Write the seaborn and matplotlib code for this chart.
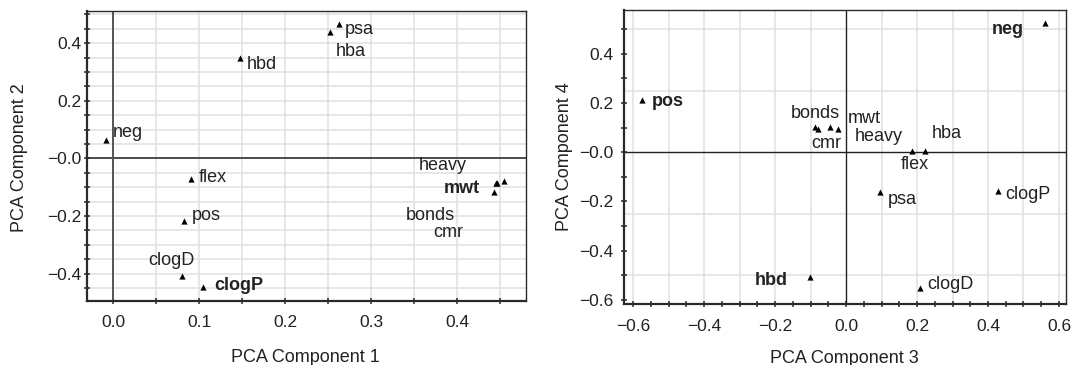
import numpy as np
import pandas as pd
import matplotlib
matplotlib.use("Agg")
import matplotlib.pyplot as plt
import seaborn as sns
from matplotlib.ticker import MultipleLocator, FixedLocator, FixedFormatter

# ---------------- data ----------------
variables = ["psa", "hba", "hbd", "neg", "flex", "pos", "clogD", "clogP",
             "heavy", "mwt", "bonds", "cmr"]
pc1 = [0.263, 0.252, 0.148, -0.008, 0.091, 0.083, 0.080, 0.105,
       0.455, 0.446, 0.445, 0.443]
pc2 = [0.467, 0.439, 0.348, 0.065, -0.071, -0.217, -0.408, -0.446,
       -0.078, -0.086, -0.086, -0.118]
pc3 = [0.096, 0.223, -0.103, 0.561, 0.187, -0.576, 0.208, 0.428,
       -0.022, -0.044, -0.087, -0.080]
pc4 = [-0.160, 0.005, -0.508, 0.525, 0.005, 0.213, -0.553, -0.156,
       0.095, 0.104, 0.104, 0.095]
bold_left = ["mwt", "clogP"]
bold_right = ["neg", "pos", "hbd"]

x1_ticks = [0.0, 0.1, 0.2, 0.3, 0.4]
x1_labels = ["0.0", "0.1", "0.2", "0.3", "0.4"]
y1_ticks = [-0.4, -0.2, 0.0, 0.2, 0.4]
y1_labels = ["\u22120.4", "\u22120.2", "\u22120.0", "0.2", "0.4"]
x2_ticks = [-0.6, -0.4, -0.2, 0.0, 0.2, 0.4, 0.6]
x2_labels = ["\u22120.6", "\u22120.4", "\u22120.2", "0.0", "0.2", "0.4", "0.6"]
y2_ticks = [-0.6, -0.4, -0.2, 0.0, 0.2, 0.4]
y2_labels = ["\u22120.6", "\u22120.4", "\u22120.2", "\u22120.0", "0.2", "0.4"]

df = pd.DataFrame({"var": variables, "PC1": pc1, "PC2": pc2, "PC3": pc3, "PC4": pc4})

# label placement (offset pixels, horizontal alignment)
off_left = {
    "psa": (6, -6, "left"), "hba": (21, -20, "center"), "hbd": (6.5, -6.5, "left"),
    "neg": (6.5, 7.5, "left"), "flex": (7.5, 1.5, "left"), "pos": (7, 5, "left"),
    "clogD": (-11, 15, "center"), "clogP": (11, 1, "left"),
    "heavy": (-62, 15, "center"), "mwt": (-17, -5.5, "right"),
    "bonds": (-65, -32, "center"), "cmr": (-46, -40.5, "center"),
}
off_right = {
    "psa": (7.5, -7.5, "left"), "hba": (22, 17, "center"), "hbd": (-38.5, -3.5, "center"),
    "neg": (-37, -6.5, "center"), "flex": (2.5, -14, "center"), "pos": (10, -1.5, "left"),
    "clogD": (7, 4, "left"), "clogP": (7, -3.5, "left"), "heavy": (40, -7.5, "center"),
    "mwt": (17, 8.5, "left"), "bonds": (0.5, 13.5, "center"), "cmr": (8.5, -15, "center"),
}

# ---------------- style ----------------
sns.set_style("white")
plt.rcParams["font.family"] = ["Liberation Sans", "DejaVu Sans"]
TXT = "#222222"
GRID = "#e0e0e0"

fig = plt.figure(figsize=(10.73, 3.65), dpi=100)
axL = fig.add_axes([0.0814, 0.176, 0.4086, 0.794])
axR = fig.add_axes([0.5815, 0.167, 0.4117, 0.8056])


def style_axes(ax):
    for side in ["left", "bottom"]:
        ax.spines[side].set_linewidth(1.6)
        ax.spines[side].set_color("#2a2a2a")
    for side in ["top", "right"]:
        ax.spines[side].set_linewidth(1.0)
        ax.spines[side].set_color("#2a2a2a")
        ax.spines[side].set_visible(True)


# ---------------- left panel ----------------
ax = axL
ax.set_xlim(-0.030, 0.480)
ax.set_ylim(-0.494, 0.512)
ax.xaxis.set_major_locator(FixedLocator(x1_ticks))
ax.xaxis.set_major_formatter(FixedFormatter(x1_labels))
ax.yaxis.set_major_locator(FixedLocator(y1_ticks))
ax.yaxis.set_major_formatter(FixedFormatter(y1_labels))
ax.xaxis.set_minor_locator(MultipleLocator(0.05))
ax.yaxis.set_minor_locator(MultipleLocator(0.05))
ax.grid(True, which="both", color=GRID, linewidth=1.1, zorder=0)
ax.set_axisbelow(True)
ax.axhline(0, color="#222222", linewidth=1.1, zorder=1)
ax.axvline(0, color="#555555", linewidth=1.4, zorder=1)
sns.scatterplot(data=df, x="PC1", y="PC2", marker="^", color="black", s=20,
                linewidth=0, ax=ax, zorder=3)
for v, x, y in zip(variables, pc1, pc2):
    dx, dy, ha = off_left[v]
    ax.annotate(v, (x, y), xytext=(dx, dy), textcoords="offset pixels",
                ha=ha, va="center", fontsize=13, color=TXT,
                fontweight="bold" if v in bold_left else "normal")
style_axes(ax)
ax.tick_params(which="both", bottom=True, left=True, direction="inout", length=5,
               width=1.1, color="#2a2a2a", labelsize=12.5, labelcolor=TXT)
ax.tick_params(axis="x", which="both", pad=8)
ax.tick_params(axis="y", which="both", pad=2)
ax.set_xlabel("PCA Component 1", fontsize=13, color=TXT)
ax.set_ylabel("PCA Component 2", fontsize=13, color=TXT)
ax.xaxis.set_label_coords(0.498, -0.168)
ax.yaxis.set_label_coords(-0.136, 0.493)

# ---------------- right panel ----------------
ax = axR
ax.set_xlim(-0.626, 0.619)
ax.set_ylim(-0.617, 0.578)
ax.xaxis.set_major_locator(FixedLocator(x2_ticks))
ax.xaxis.set_major_formatter(FixedFormatter(x2_labels))
ax.yaxis.set_major_locator(FixedLocator(y2_ticks))
ax.yaxis.set_major_formatter(FixedFormatter(y2_labels))
ax.xaxis.set_minor_locator(MultipleLocator(0.05))
ax.yaxis.set_minor_locator(MultipleLocator(0.1))
ax.grid(False)
for gx in np.arange(-0.6, 0.61, 0.1):
    if abs(gx) > 1e-9:
        ax.axvline(gx, color=GRID, linewidth=1.1, zorder=0)
for gy in [-0.5, -0.25, 0.25, 0.5]:
    ax.axhline(gy, color=GRID, linewidth=1.1, zorder=0)
ax.axhline(0, color="#222222", linewidth=1.0, zorder=1)
ax.axvline(0, color="#222222", linewidth=1.0, zorder=1)
sns.scatterplot(data=df, x="PC3", y="PC4", marker="^", color="black", s=20,
                linewidth=0, ax=ax, zorder=3)
for v, x, y in zip(variables, pc3, pc4):
    dx, dy, ha = off_right[v]
    ax.annotate(v, (x, y), xytext=(dx, dy), textcoords="offset pixels",
                ha=ha, va="center", fontsize=13, color=TXT,
                fontweight="bold" if v in bold_right else "normal")
style_axes(ax)
ax.tick_params(which="both", bottom=True, left=True, direction="inout", length=5,
               width=1.1, color="#2a2a2a", labelsize=12.5, labelcolor=TXT)
ax.tick_params(axis="x", which="both", pad=8)
ax.tick_params(axis="y", which="both", pad=5)
ax.set_xlabel("PCA Component 3", fontsize=13, color=TXT)
ax.set_ylabel("PCA Component 4", fontsize=13, color=TXT)
ax.xaxis.set_label_coords(0.50, -0.155)
ax.yaxis.set_label_coords(-0.1155, 0.50)

fig.savefig("out.png", dpi=100)
